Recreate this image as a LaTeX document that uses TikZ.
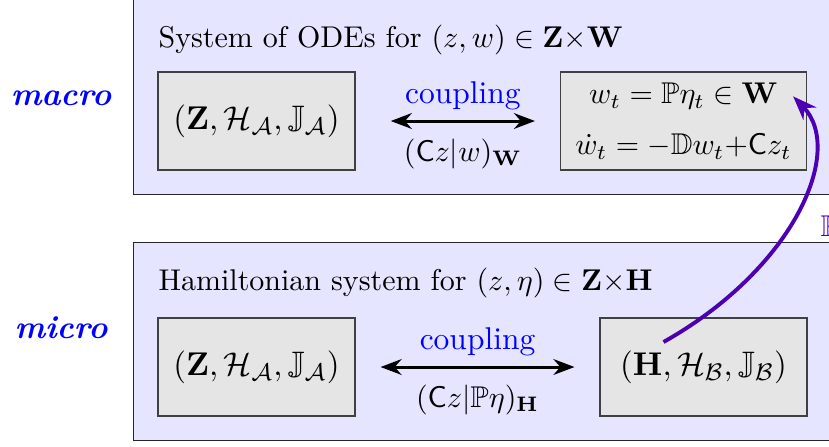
\documentclass[tikz,border=0pt]{standalone}
\usepackage{amsmath}
\usepackage{amssymb}
\usepackage{xcolor}
\usepackage{tikz}
\usetikzlibrary{positioning, calc, arrows.meta}

\begin{document}
\begin{tikzpicture}[x=0.3333pt, y=-0.3333pt,
        layer/.style={rectangle, draw=black!85, fill=blue!10},
        state/.style={rectangle, draw=black!75, fill=gray!20, minimum width=65.7pt, minimum height=32.7pt, align=center},
        triple/.style={state, font=\fontsize{11.3}{14}\selectfont},
        scale name/.style={text=blue, font=\fontsize{10.8}{13}\selectfont\bfseries\itshape},
        couple/.style={{Stealth[length=7pt]}-{Stealth[length=7pt]}, line width=1pt},
        proj/.style={-{Stealth[length=8pt]}, line width=1.3pt, blue!70!red}]

        \clip (0,0) rectangle (829,446);

        % Layers
        \node[layer, anchor=north west, minimum width=236pt, minimum height=68pt] (top) at (133,-10) {};
        \node[layer, anchor=north west, minimum width=236pt, minimum height=66pt] (bot) at (133,242) {};

        \node[scale name, anchor=base] (macro) at (61,105) {macro};
        \node[scale name, anchor=base] (micro) at (61,338) {micro};

        \node[anchor=base west, inner sep=0pt] (ttop) at (158,47) {System of ODEs for $(z,w)\in\mathbf{Z}{\times}\mathbf{W}$};
        \node[anchor=base west, inner sep=0pt] (tbot) at (158,290) {Hamiltonian system for $(z,\eta)\in\mathbf{Z}{\times}\mathbf{H}$};

        % Macro level
        \node[triple] (za) at (256.5,121) {$(\mathbf{Z},\mathcal{H}_{\mathcal{A}},\mathbb{J}_{\mathcal{A}})$};
        \node[state, minimum width=82pt] (wb) at (683.5,121) {$w_t=\mathbb{P}\eta_t\in\mathbf{W}$\\[5pt] $\dot w_t=-\mathbb{D}w_t{+}\mathsf{C}z_t$};

        \draw[couple, shorten <=11.7pt, shorten >=8.3pt] (za) -- (wb)
            node[pos=0.525, above, text=blue, font=\fontsize{10.5}{12}\selectfont] {coupling}
            node[pos=0.525, below=2pt] {$(\mathsf{C}z|w)_{\mathbf{W}}$};

        % Micro level
        \node[triple] (zb) at (256.5,367) {$(\mathbf{Z},\mathcal{H}_{\mathcal{A}},\mathbb{J}_{\mathcal{A}})$};
        \node[triple, minimum width=69pt] (hb) at (703.5,367) {$(\mathbf{H},\mathcal{H}_{\mathcal{B}},\mathbb{J}_{\mathcal{B}})$};

        \draw[couple, shorten <=8.3pt, shorten >=8.3pt] (zb) -- (hb)
            node[midway, above, text=blue, font=\fontsize{10.5}{12}\selectfont] {coupling}
            node[midway, below=2pt] {$(\mathsf{C}z|\mathbb{P}\eta)_{\mathbf{H}}$};

        % Projection
        \coordinate (pfrom) at ($(hb.center)+(-40,-25)$);
        \coordinate (pto) at ($(wb.north east)+(-14,25)$);
        \draw[proj] (pfrom) .. controls (795,268) and (845,150) .. (pto);
        \node[anchor=west, text=blue!70!red] (plabel) at (810,226) {$\mathbb{P}$};
      \end{tikzpicture}
\end{document}
